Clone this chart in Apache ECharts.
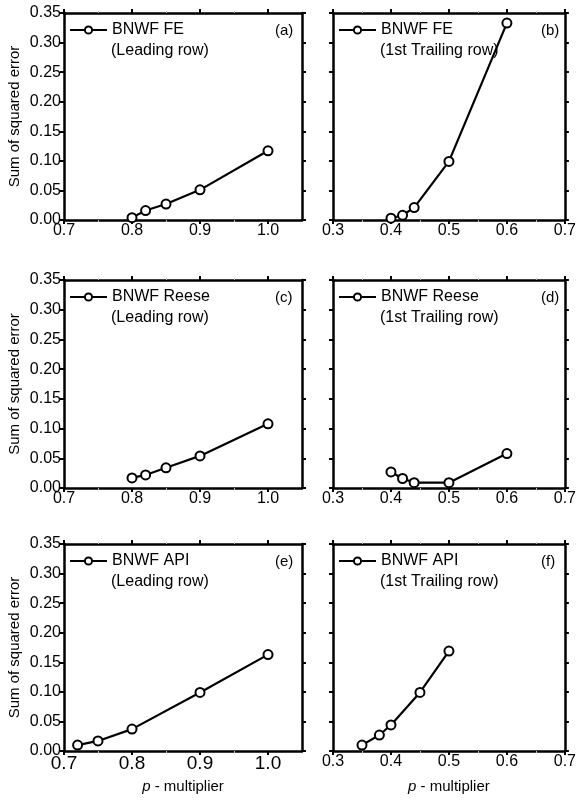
<!DOCTYPE html>
<html>
<head>
<meta charset="utf-8">
<script src="https://cdn.jsdelivr.net/npm/echarts@6/dist/echarts.min.js"></script>
<style>
  html, body { margin: 0; padding: 0; background: #fff; }
  #chart { width: 579px; height: 805px; }
</style>
</head>
<body>
<div id="chart"></div>
<script>
// panel data
var panelNames = ['BNWF FE', 'BNWF FE', 'BNWF Reese', 'BNWF Reese', 'BNWF API', 'BNWF API'];
var panelRows = ['(Leading row)', '(1st Trailing row)', '(Leading row)', '(1st Trailing row)', '(Leading row)', '(1st Trailing row)'];
var panelTags = ['(a)', '(b)', '(c)', '(d)', '(e)', '(f)'];

var xA = [0.80, 0.82, 0.85, 0.90, 1.00];
var yA = [0.004, 0.016, 0.027, 0.051, 0.117];
var xB = [0.40, 0.42, 0.44, 0.50, 0.60];
var yB = [0.003, 0.008, 0.021, 0.099, 0.333];
var xC = [0.80, 0.82, 0.85, 0.90, 1.00];
var yC = [0.017, 0.022, 0.034, 0.054, 0.108];
var xD = [0.40, 0.42, 0.44, 0.50, 0.60];
var yD = [0.027, 0.016, 0.009, 0.009, 0.058];
var xE = [0.72, 0.75, 0.80, 0.90, 1.00];
var yE = [0.010, 0.017, 0.037, 0.099, 0.163];
var xF = [0.35, 0.38, 0.40, 0.45, 0.50];
var yF = [0.010, 0.027, 0.044, 0.099, 0.169];

var xsAll = [xA, xB, xC, xD, xE, xF];
var ysAll = [yA, yB, yC, yD, yE, yF];

var leftTicks = [0.7, 0.8, 0.9, 1.0];
var rightTicks = [0.3, 0.4, 0.5, 0.6, 0.7];

var FONT = 'Liberation Sans';
var cols = [{ left: 64, width: 238 }, { left: 333, width: 235 }];
var rows = [{ top: 13, height: 207 }, { top: 280, height: 208 }, { top: 544, height: 207 }];

var grid = [], xAxis = [], yAxis = [], series = [], title = [], legend = [];

for (var i = 0; i < 6; i++) {
    var c = cols[i % 2], r = rows[Math.floor(i / 2)];
    var isLeft = (i % 2 === 0);
    var isBottom = (i >= 4);
    grid.push({ left: c.left, top: r.top, width: c.width, height: r.height });

    var xmin = isLeft ? 0.7 : 0.3;
    var xmax = isLeft ? 1.05 : 0.7;
    var ticks = isLeft ? leftTicks : rightTicks;
    var xFont = isBottom ? (isLeft ? 19 : 16) : 16;
    var axLine = { onZero: false, lineStyle: { color: '#000', width: 2.5 } };
    var minor = { show: true, splitNumber: 2, length: 2, lineStyle: { color: '#bbb', width: 1 } };

    // bottom x axis
    xAxis.push({
        type: 'value', gridIndex: i, min: xmin, max: xmax, interval: 0.1, position: 'bottom',
        axisLine: axLine,
        axisTick: { show: true, length: 4, customValues: ticks, lineStyle: { color: '#000', width: 2 } },
        minorTick: minor,
        axisLabel: { customValues: ticks, color: '#000', fontFamily: FONT, fontSize: xFont, margin: 3,
            formatter: function (v) { return v.toFixed(1); } },
        splitLine: { show: false },
        name: isBottom ? '{i|p} - multiplier' : '',
        nameLocation: 'middle', nameGap: 28,
        nameTextStyle: { color: '#000', fontFamily: FONT, fontSize: 15,
            rich: { i: { fontStyle: 'italic', fontFamily: FONT, fontSize: 15, color: '#000' } } }
    });
    // top mirror axis
    xAxis.push({
        type: 'value', gridIndex: i, min: xmin, max: xmax, interval: 0.1, position: 'top',
        axisLine: axLine,
        axisTick: { show: true, length: 4, customValues: ticks, lineStyle: { color: '#000', width: 2 } },
        minorTick: minor,
        axisLabel: { show: false }, splitLine: { show: false }
    });
    // left y axis
    yAxis.push({
        type: 'value', gridIndex: i, min: 0, max: 0.35, interval: 0.05, position: 'left',
        axisLine: axLine,
        axisTick: { show: true, length: 4, lineStyle: { color: '#000', width: 2 } },
        axisLabel: { show: isLeft, color: '#000', fontFamily: FONT, fontSize: 16, margin: 3,
            formatter: function (v) { return v.toFixed(2); } },
        splitLine: { show: false },
        name: isLeft ? 'Sum of squared error' : '',
        nameLocation: 'middle', nameGap: 42,
        nameTextStyle: { color: '#000', fontFamily: FONT, fontSize: 15 }
    });
    // right mirror axis
    yAxis.push({
        type: 'value', gridIndex: i, min: 0, max: 0.35, interval: 0.05, position: 'right',
        axisLine: axLine,
        axisTick: { show: true, length: 4, lineStyle: { color: '#000', width: 2 } },
        axisLabel: { show: false }, splitLine: { show: false }
    });

    var pts = xsAll[i].map(function (x, k) { return [x, ysAll[i][k]]; });
    series.push({
        name: panelNames[i], type: 'line', xAxisIndex: 2 * i, yAxisIndex: 2 * i,
        data: pts, symbol: 'circle', symbolSize: 9, showSymbol: true,
        lineStyle: { color: '#000', width: 2.2 },
        itemStyle: { color: '#fff', borderColor: '#000', borderWidth: 2 },
        animation: false
    });

    legend.push({
        data: [panelNames[i]], left: c.left + 5, top: r.top + 9, padding: 0,
        itemWidth: 37, itemHeight: 9, itemGap: 3, selectedMode: false,
        textStyle: { color: '#000', fontFamily: FONT, fontSize: 16 }
    });
    title.push({
        text: panelRows[i], left: c.left + 47, top: r.top + 30, padding: 0,
        textStyle: { color: '#000', fontFamily: FONT, fontSize: 16, fontWeight: 'normal' }
    });
    title.push({
        text: panelTags[i], left: c.left + c.width - 27, top: r.top + 10, padding: 0,
        textStyle: { color: '#000', fontFamily: FONT, fontSize: 15, fontWeight: 'normal' }
    });
}

var chart = echarts.init(document.getElementById('chart'));
chart.setOption({
    backgroundColor: '#fff',
    animation: false,
    title: title, legend: legend,
    grid: grid, xAxis: xAxis, yAxis: yAxis, series: series
});
</script>
</body>
</html>
